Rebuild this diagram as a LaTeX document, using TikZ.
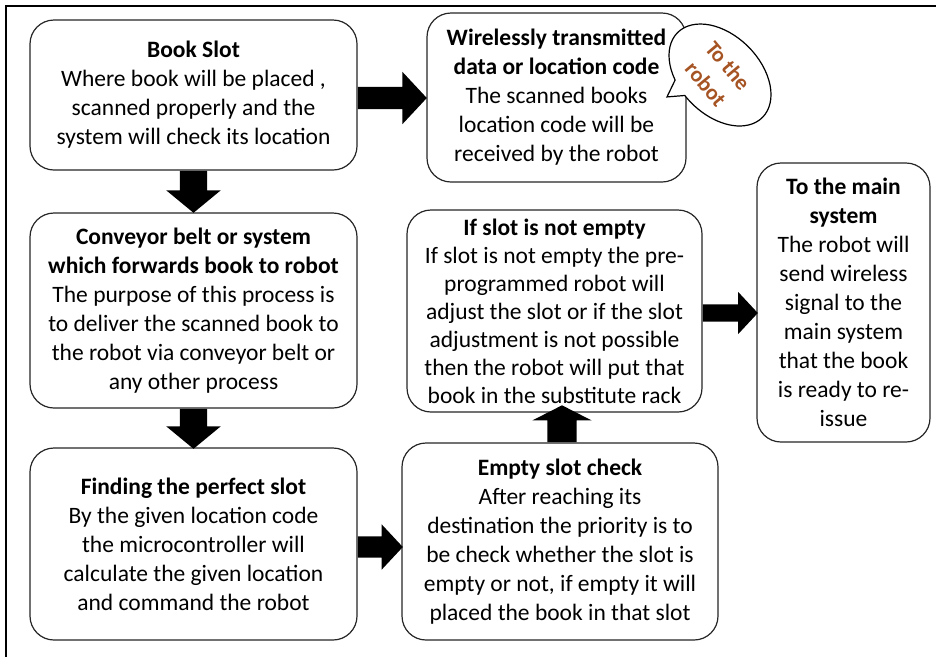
\documentclass[tikz,border=0pt]{standalone}
\usepackage{fontspec}
\setmainfont{Carlito}
\usetikzlibrary{shapes.arrows,calc}
\definecolor{bubbletext}{RGB}{166,84,36}

\begin{document}
\begin{tikzpicture}[x=1pt,y=-1pt,
  box/.style={draw=black!85,line width=1.2pt,rounded corners=24pt,fill=white,
    align=center,inner sep=0pt,font=\fontsize{23.5}{29}\selectfont},
  blockarrow/.style={single arrow,fill=black,draw=none,anchor=tail,
    single arrow tip angle=94}]
\useasboundingbox (0,0) rectangle (936,657);
\draw [line width=2.5pt] (936,6) -- (6,6) -- (6,657);

\node [box,minimum width=327pt,minimum height=150pt] (slot) at (193.5,95)
  {\textbf{Book Slot}\\Where book will be placed ,\\scanned properly and the\\system will check its location};
\node [box,minimum width=259pt,minimum height=169pt] (wireless) at (556.5,97.5)
  {\textbf{Wirelessly transmitted}\\\textbf{data or location code}\\The scanned books\\location code will be\\received by the robot};
\node [box,minimum width=327pt,minimum height=195pt] (conveyor) at (193.5,310.5)
  {\textbf{Conveyor belt or system}\\\textbf{which forwards book to robot}\\The purpose of this process is\\to deliver the scanned book to\\the robot via conveyor belt or\\any other process};
\node [box,minimum width=327pt,minimum height=192pt] (finding) at (193.5,544)
  {\textbf{Finding the perfect slot}\\By the given location code\\the microcontroller will\\calculate the given location\\and command the robot};
\node [box,minimum width=316pt,minimum height=197pt] (check) at (560,541.5)
  {\textbf{Empty slot check}\\After reaching its\\destination the priority is to\\be check whether the slot is\\empty or not, if empty it will\\placed the book in that slot};
\node [box,minimum width=295pt,minimum height=202pt,font=\fontsize{23.5}{28}\selectfont] (notempty) at (554.5,311)
  {\textbf{If slot is not empty}\\If slot is not empty the pre-\\programmed robot will\\adjust the slot or if the slot\\adjustment is not possible\\then the robot will put that\\book in the substitute rack};
\node [box,minimum width=173pt,minimum height=279pt] (mainsys) at (843.5,302.5)
  {\textbf{To the main}\\\textbf{system}\\The robot will\\send wireless\\signal to the\\main system\\that the book\\is ready to re-\\issue};

\node [blockarrow,inner sep=11pt,minimum height=69pt,minimum width=52pt,single arrow head extend=15pt] (a1)
  at ($(slot.east)+(0,3)$) {};
\node [blockarrow,shape border rotate=270,inner sep=13.5pt,minimum height=42pt,minimum width=54pt,
  single arrow head extend=13.5pt,single arrow tip angle=101] (a2)
  at (slot.south) {};
\node [blockarrow,shape border rotate=270,inner sep=13.5pt,minimum height=40pt,minimum width=54pt,
  single arrow head extend=13.5pt,single arrow tip angle=101] (a3)
  at (conveyor.south) {};
\node [blockarrow,inner sep=10.5pt,minimum height=45pt,minimum width=45pt,single arrow head extend=12pt] (a4)
  at ($(finding.east)+(0,3)$) {};
\node [blockarrow,shape border rotate=90,inner sep=14.5pt,minimum height=31pt,minimum width=59pt,
  single arrow head extend=15pt,single arrow tip angle=126] (a5)
  at ($(check.north)+(2,0)$) {};
\node [blockarrow,inner sep=8.5pt,minimum height=55pt,minimum width=42pt,single arrow head extend=12.5pt] (a6)
  at ($(notempty.east)+(0,2)$) {};

\begin{scope}[shift={(720,75)},rotate=-45]
\draw [line width=1.2pt,fill=white] (100:60 and 40) -- (-22,53) -- (118:60 and 40)
  arc [start angle=118,end angle=460,x radius=60,y radius=40] -- cycle;
\end{scope}
\node [rotate=-50,align=center,text=bubbletext,font=\fontsize{22}{29}\selectfont\bfseries] (robot)
  at (717,75) {To the\\robot};
\end{tikzpicture}
\end{document}
